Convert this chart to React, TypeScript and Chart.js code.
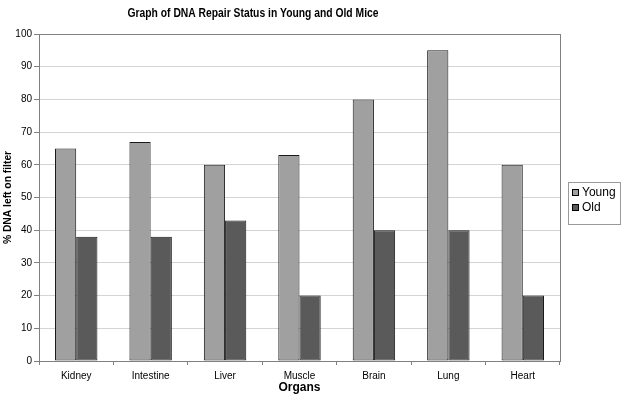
import React, { useEffect, useRef } from "react";
import { Chart, registerables } from "chart.js";

Chart.register(...registerables);

const categories = ["Kidney", "Intestine", "Liver", "Muscle", "Brain", "Lung", "Heart"];
const youngValues = [65, 67, 60, 63, 80, 95, 60];
const oldValues = [38, 38, 43, 20, 40, 40, 20];
const seriesNames = ["Young", "Old"];
const seriesColors = ["#A0A0A0", "#5A5A5A"];
const chartTitle = "Graph of DNA Repair Status in Young and Old Mice";
const xTitle = "Organs";
const yTitle = "% DNA left on filter";

const FONT = "'Liberation Sans', Arial, sans-serif";

const framePlugin = {
  id: "frameAndExtras",
  beforeDatasetsDraw(chart: any) {
    const { ctx, chartArea } = chart;
    ctx.save();
    ctx.strokeStyle = "#808080";
    ctx.lineWidth = 1;
    ctx.strokeRect(
      Math.round(chartArea.left) + 0.5,
      Math.round(chartArea.top) + 0.5,
      Math.round(chartArea.right - chartArea.left),
      Math.round(chartArea.bottom - chartArea.top)
    );
    ctx.restore();
  },
  afterDraw(chart: any) {
    const { ctx } = chart;
    ctx.save();
    // title (slightly condensed to match the reference width)
    ctx.fillStyle = "#000";
    ctx.font = `bold 12px ${FONT}`;
    ctx.textAlign = "center";
    ctx.textBaseline = "middle";
    ctx.save();
    ctx.translate(253, 14);
    ctx.scale(0.86, 1);
    ctx.fillText(chartTitle, 0, 0);
    ctx.restore();
    // legend
    const lx = 568, ly = 182, lw = 52, lh = 42;
    ctx.strokeStyle = "#9A9A9A";
    ctx.lineWidth = 1;
    ctx.strokeRect(lx + 0.5, ly + 0.5, lw, lh);
    ctx.font = `12px ${FONT}`;
    ctx.textAlign = "left";
    seriesNames.forEach((name, i) => {
      const cy = ly + 10 + i * 15;
      ctx.fillStyle = seriesColors[i];
      ctx.fillRect(572, cy - 3, 7, 7);
      ctx.strokeStyle = "#000";
      ctx.strokeRect(572.5, cy - 2.5, 6, 6);
      ctx.fillStyle = "#000";
      ctx.fillText(name, 582, cy + 1);
    });
    ctx.restore();
  },
};

export default function App() {
  const ref = useRef<HTMLCanvasElement>(null);
  useEffect(() => {
    if (!ref.current) return;
    const chart = new Chart(ref.current, {
      type: "bar",
      data: {
        labels: categories,
        datasets: [
          {
            label: seriesNames[0],
            data: youngValues,
            backgroundColor: seriesColors[0],
            borderColor: "#1A1A1A",
            borderWidth: 1,
            borderSkipped: false,
          },
          {
            label: seriesNames[1],
            data: oldValues,
            backgroundColor: seriesColors[1],
            borderColor: "#1A1A1A",
            borderWidth: 1,
            borderSkipped: false,
          },
        ],
      },
      options: {
        animation: false,
        responsive: false,
        maintainAspectRatio: false,
        layout: { padding: { left: 0, right: 62, top: 34, bottom: 0 } },
        datasets: { bar: { categoryPercentage: 0.57, barPercentage: 1 } },
        plugins: {
          legend: { display: false },
          title: { display: false },
          tooltip: { enabled: false },
        },
        scales: {
          x: {
            afterFit: (s: any) => {
              s.height = 38;
            },
            grid: {
              offset: true,
              drawOnChartArea: false,
              drawTicks: true,
              tickLength: 4,
              tickColor: "#808080",
            },
            border: { color: "#808080" },
            ticks: {
              color: "#000",
              font: { family: FONT, size: 10 },
              padding: 5,
              maxRotation: 0,
            },
            title: {
              display: true,
              text: xTitle,
              color: "#000",
              font: { family: FONT, size: 12, weight: "bold" },
              padding: { top: 0, bottom: 4 },
            },
          },
          y: {
            min: 0,
            max: 100,
            afterFit: (s: any) => {
              s.width = 39;
            },
            grid: {
              color: "#D4D4D4",
              drawTicks: true,
              tickLength: 5,
              tickColor: "#808080",
            },
            border: { color: "#808080" },
            ticks: {
              stepSize: 10,
              color: "#000",
              font: { family: FONT, size: 10 },
              padding: 2,
            },
            title: {
              display: true,
              text: yTitle,
              color: "#000",
              font: { family: FONT, size: 10.3, weight: "bold" },
              padding: { top: 2, bottom: 0 },
            },
          },
        },
      },
      plugins: [framePlugin],
    });
    return () => chart.destroy();
  }, []);
  return (
    <div style={{ position: "absolute", left: 0, top: 0, width: 622, height: 399, background: "#fff" }}>
      <canvas ref={ref} width={622} height={399} style={{ display: "block", width: 622, height: 399 }} />
    </div>
  );
}
